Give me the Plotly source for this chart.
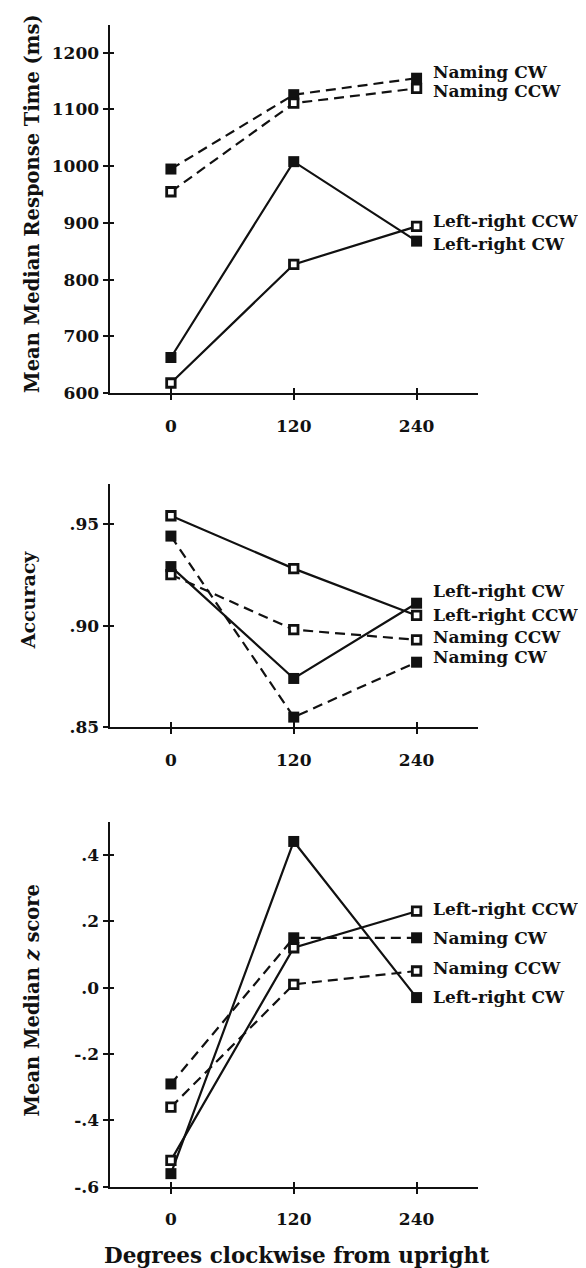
import plotly.graph_objects as go

# ---- data ----
degrees = [0, 120, 240]
degree_labels = ["0", "120", "240"]

rt_naming_cw = [995, 1126, 1155]
rt_naming_ccw = [955, 1111, 1137]
rt_lr_cw = [663, 1008, 868]
rt_lr_ccw = [618, 827, 894]

acc_lr_cw = [0.929, 0.874, 0.911]
acc_lr_ccw = [0.954, 0.928, 0.905]
acc_naming_ccw = [0.925, 0.898, 0.893]
acc_naming_cw = [0.944, 0.855, 0.882]

z_lr_ccw = [-0.52, 0.12, 0.23]
z_naming_cw = [-0.29, 0.15, 0.15]
z_naming_ccw = [-0.36, 0.01, 0.05]
z_lr_cw = [-0.56, 0.44, -0.03]

rt_ticks = [600, 700, 800, 900, 1000, 1100, 1200]
rt_ticktext = ["600", "700", "800", "900", "1000", "1100", "1200"]
acc_ticks = [0.85, 0.90, 0.95]
acc_ticktext = [".85", ".90", ".95"]
z_ticks = [-0.6, -0.4, -0.2, 0.0, 0.2, 0.4]
z_ticktext = ["-.6", "-.4", "-.2", ".0", ".2", ".4"]

W, H = 586, 1268
INK = "#111111"
FONT = "DejaVu Serif"

fig = go.Figure()

filled = dict(symbol="square", size=11, color=INK, line=dict(color=INK, width=0))
hollow = dict(symbol="square", size=8.5, color="white", line=dict(color=INK, width=2.8))
solid = dict(color=INK, width=2.2)
dashed = dict(color=INK, width=2.2, dash="10px,6px")

# panel specs: series with vertical label shift (px)
panels = [
    ("", [
        ("Naming CW", rt_naming_cw, dashed, filled, 6),
        ("Naming CCW", rt_naming_ccw, dashed, hollow, -3),
        ("Left-right CW", rt_lr_cw, solid, filled, -3),
        ("Left-right CCW", rt_lr_ccw, solid, hollow, 5),
    ]),
    ("2", [
        ("Naming CW", acc_naming_cw, dashed, filled, 5),
        ("Naming CCW", acc_naming_ccw, dashed, hollow, 3),
        ("Left-right CW", acc_lr_cw, solid, filled, 12),
        ("Left-right CCW", acc_lr_ccw, solid, hollow, 0),
    ]),
    ("3", [
        ("Naming CW", z_naming_cw, dashed, filled, 0),
        ("Naming CCW", z_naming_ccw, dashed, hollow, 3),
        ("Left-right CW", z_lr_cw, solid, filled, 1),
        ("Left-right CCW", z_lr_ccw, solid, hollow, 2),
    ]),
]

annotations = []
for suf, series in panels:
    for name, vals, ln, mk, ysh in series:
        fig.add_trace(go.Scatter(
            x=degrees, y=vals, mode="lines+markers", name=name,
            line=ln, marker=mk, xaxis="x" + suf, yaxis="y" + suf,
            showlegend=False, cliponaxis=False,
        ))
        annotations.append(dict(
            x=degrees[-1], y=vals[-1], xref="x" + suf, yref="y" + suf,
            text=name, showarrow=False, xanchor="left", yanchor="middle",
            xshift=15, yshift=ysh, borderpad=0,
            font=dict(family=FONT, size=17, color=INK, weight="bold"),
        ))

xdom = [101.5 / W, 470 / W]
ydoms = [[1 - 388.3 / H, 1 - 17 / H], [1 - 725 / H, 1 - 480 / H], [1 - 1188.3 / H, 1 - 820 / H]]
yranges = [[600, 1249], [0.85, 0.9695], [-0.6, 0.5]]
yticks = [(rt_ticks, rt_ticktext), (acc_ticks, acc_ticktext), (z_ticks, z_ticktext)]
xrange_ = [-60, 300]

tickfont = dict(family=FONT, size=17, color=INK, weight="bold")

layout = dict(
    width=W, height=H, margin=dict(l=0, r=0, t=0, b=0),
    paper_bgcolor="white", plot_bgcolor="white", showlegend=False,
)

for i, (suf, _) in enumerate(panels):
    n = i + 1
    ov = str(n + 3)
    xa = "xaxis" + ("" if n == 1 else str(n))
    ya = "yaxis" + ("" if n == 1 else str(n))
    xid = "x" + ("" if n == 1 else str(n))
    yid = "y" + ("" if n == 1 else str(n))
    tv, tt = yticks[i]
    layout[xa] = dict(
        domain=xdom, range=xrange_, anchor=yid, showgrid=False, zeroline=False,
        showline=True, linecolor=INK, linewidth=2,
        tickmode="array", tickvals=degrees, ticktext=degree_labels,
        ticks="outside", ticklen=5, tickwidth=2, tickcolor=INK,
        ticklabelstandoff=11, tickfont=tickfont,
    )
    layout[ya] = dict(
        domain=ydoms[i], range=yranges[i], anchor=xid, showgrid=False, zeroline=False,
        showline=True, linecolor=INK, linewidth=2,
        tickmode="array", tickvals=tv, ticktext=tt,
        ticks="outside", ticklen=5, tickwidth=2, tickcolor=INK,
        ticklabelstandoff=0, tickfont=tickfont,
    )
    # overlay axes so tick marks cross the axis line
    layout["xaxis" + ov] = dict(
        overlaying=xid, anchor=yid, range=xrange_, showgrid=False, zeroline=False,
        showline=False, tickmode="array", tickvals=degrees, showticklabels=False,
        ticks="inside", ticklen=5, tickwidth=2, tickcolor=INK, side="bottom",
    )
    layout["yaxis" + ov] = dict(
        overlaying=yid, anchor=xid, range=yranges[i], showgrid=False, zeroline=False,
        showline=False, tickmode="array", tickvals=tv, showticklabels=False,
        ticks="inside", ticklen=4, tickwidth=2, tickcolor=INK, side="left",
    )
    fig.add_trace(go.Scatter(x=[None], y=[None], xaxis="x" + ov, yaxis="y" + ov,
                             showlegend=False, hoverinfo="skip"))

# axis titles
annotations += [
    dict(x=25 / W, y=1 - 197.5 / H, xref="paper", yref="paper", textangle=-90,
         text="Mean Median Response Time (ms)", showarrow=False,
         xanchor="center", yanchor="middle",
         font=dict(family=FONT, size=19.5, color=INK, weight="bold")),
    dict(x=20 / W, y=1 - 597 / H, xref="paper", yref="paper", textangle=-90,
         text="Accuracy", showarrow=False, xanchor="center", yanchor="middle",
         font=dict(family=FONT, size=19, color=INK, weight="bold")),
    dict(x=24.5 / W, y=1 - 1000 / H, xref="paper", yref="paper", textangle=-90,
         text="Mean Median <i>z</i> score", showarrow=False,
         xanchor="center", yanchor="middle",
         font=dict(family=FONT, size=19.5, color=INK, weight="bold")),
    dict(x=288.5 / W, y=1 - 1257 / H, xref="paper", yref="paper",
         text="Degrees clockwise from upright", showarrow=False,
         xanchor="center", yanchor="middle",
         font=dict(family=FONT, size=21.5, color=INK, weight="bold")),
]
layout["annotations"] = annotations

fig.update_layout(**layout)
fig.write_html("out.html")
